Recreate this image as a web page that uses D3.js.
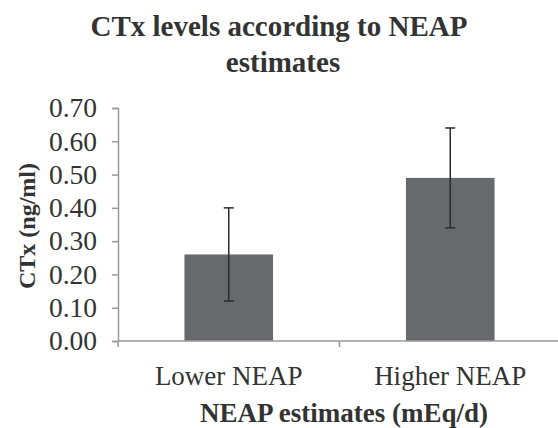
<!DOCTYPE html>
<html>
<head>
<meta charset="utf-8">
<script src="https://cdn.jsdelivr.net/npm/d3@7"></script>
<style>
  body { margin: 0; background: #fff; }
</style>
</head>
<body>
<script>
// data
var categories = ["Lower NEAP", "Higher NEAP"];
var means = [0.26, 0.49];
var errors = [0.14, 0.15];
var yTicks = [0, 0.1, 0.2, 0.3, 0.4, 0.5, 0.6, 0.7];

var W = 558, H = 428;
var serif = "Liberation Serif";
var margin = {top: 108, right: -3, bottom: 87, left: 118},
    w = W - margin.left - margin.right,
    h = H - margin.top - margin.bottom;

var svg = d3.select("body").append("svg")
    .attr("width", W).attr("height", H);

var g = svg.append("g")
    .attr("transform", "translate(" + margin.left + "," + margin.top + ")");

/***Scales***/
var xScale = d3.scaleBand().domain(categories).range([0, w])
    .paddingInner(0.6).paddingOuter(0.3);
var yScale = d3.scaleLinear().domain([0, 0.7]).range([h, 0]);

/***Bars***/
g.selectAll("rect.bar")
  .data(means)
  .enter().append("rect")
    .attr("class", "bar")
    .attr("x", function(d, i) { return xScale(categories[i]); })
    .attr("y", function(d) { return yScale(d); })
    .attr("width", xScale.bandwidth())
    .attr("height", function(d) { return h - yScale(d); })
    .attr("fill", "#68696c");

/***Axes***/
var yAxis = d3.axisLeft(yScale).tickValues(yTicks)
    .tickFormat(d3.format(".2f")).tickSize(6).tickPadding(15);
var yg = g.append("g").call(yAxis);
yg.select(".domain").attr("stroke", "#9a9a9a").attr("stroke-width", 1.5);
yg.selectAll(".tick line").attr("stroke", "#9a9a9a").attr("stroke-width", 1.5);
yg.selectAll(".tick text").attr("font-size", 27.5).attr("fill", "#333")
  .attr("font-family", serif);

// x axis: line + ticks at category boundaries
g.append("line").attr("x1", 0).attr("x2", w).attr("y1", h).attr("y2", h)
  .attr("stroke", "#9a9a9a").attr("stroke-width", 1.5);
g.selectAll("line.xtick")
  .data(d3.range(categories.length + 1))
  .enter().append("line")
    .attr("class", "xtick")
    .attr("x1", function(i) { return i * (w / categories.length); })
    .attr("x2", function(i) { return i * (w / categories.length); })
    .attr("y1", h).attr("y2", h + 6)
    .attr("stroke", "#9a9a9a").attr("stroke-width", 1.5);
g.selectAll("text.xlab")
  .data(categories)
  .enter().append("text")
    .attr("class", "xlab")
    .attr("x", function(d) { return xScale(d) + xScale.bandwidth() / 2; })
    .attr("y", h + 44)
    .attr("text-anchor", "middle")
    .attr("font-family", serif)
    .attr("fill", "#333")
    .attr("font-size", 27)
    .text(function(d) { return d; });

/***Error bars***/
var eb = g.selectAll("g.err").data(means).enter().append("g").attr("class", "err")
  .attr("stroke", "#2b2b2b").attr("stroke-width", 1.5);
var cx = function(d, i) { return xScale(categories[i]) + xScale.bandwidth() / 2; };
eb.append("line")
  .attr("x1", cx).attr("x2", cx)
  .attr("y1", function(d, i) { return yScale(d + errors[i]); })
  .attr("y2", function(d, i) { return yScale(d - errors[i]); });
[1, -1].forEach(function(s) {
  eb.append("line")
    .attr("x1", function(d, i) { return cx(d, i) - 5; })
    .attr("x2", function(d, i) { return cx(d, i) + 5; })
    .attr("y1", function(d, i) { return yScale(d + s * errors[i]); })
    .attr("y2", function(d, i) { return yScale(d + s * errors[i]); });
});

/***Titles***/
function boldText(x, y, size, str) {
  return svg.append("text").attr("x", x).attr("y", y)
    .attr("text-anchor", "middle").attr("font-size", size)
    .attr("font-family", serif).attr("font-weight", "bold")
    .attr("fill", "#333").text(str);
}
boldText(279, 36, 29, "CTx levels according to NEAP");
boldText(283, 72, 29, "estimates");
boldText(344, 422, 27, "NEAP estimates (mEq/d)");
boldText(0, 0, 24, "CTx (ng/ml)")
  .attr("transform", "translate(35,226)rotate(-90)");
</script>
</body>
</html>
